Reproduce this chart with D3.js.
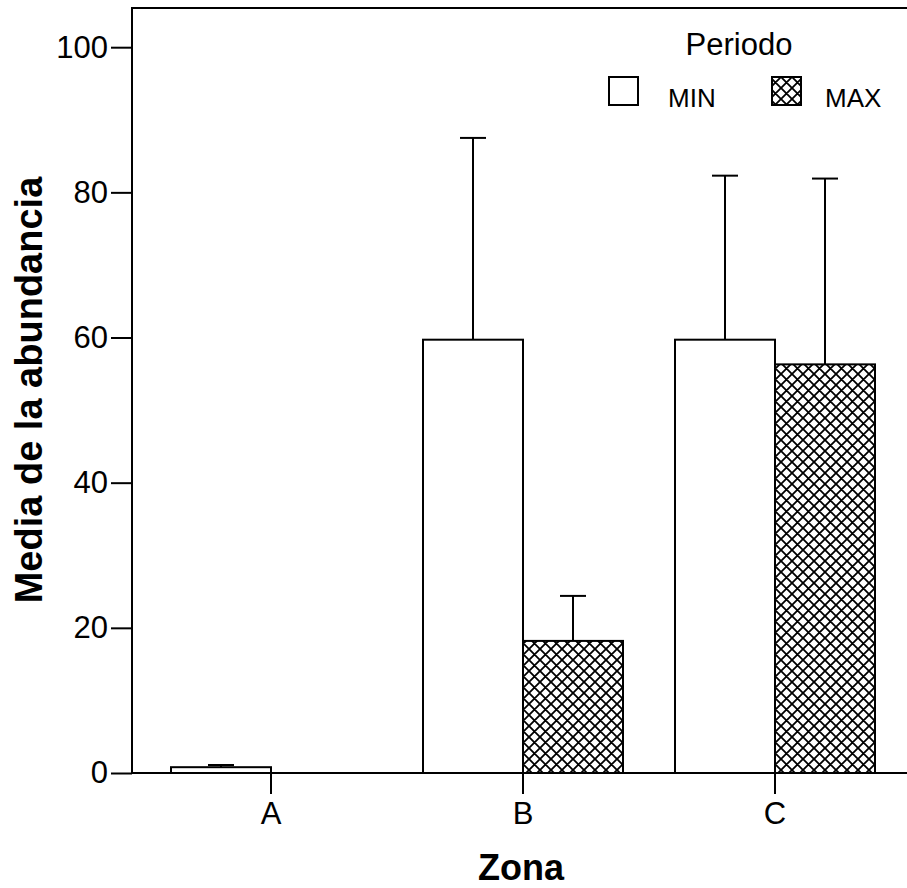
<!DOCTYPE html>
<html>
<head>
<meta charset="utf-8">
<script src="https://cdn.jsdelivr.net/npm/d3@7"></script>
<style>
  html, body { margin: 0; padding: 0; background: #fff; }
  svg { display: block; font-family: "Liberation Sans", Arial, sans-serif; }
</style>
</head>
<body>
<svg id="chart" width="907" height="888"></svg>
<script>
// Mean abundance per zone and period, with the upper error bar amount
const zones = ["A", "B", "C"];
const periods = ["MIN", "MAX"];
const meanMin = [0.8, 59.7, 59.7];
const meanMax = [0, 18.2, 56.3];
const errMin = [0.3, 27.8, 22.6];
const errMax = [0, 6.2, 25.6];
const yTicks = [0, 20, 40, 60, 80, 100];

(function () {
const svg = d3.select("#chart");
const W = 907;
const plotLeft = 132, plotTop = 8, plotBottom = 773;

const y = d3.scaleLinear().domain([0, 105.4]).range([plotBottom, plotTop]);
const x0 = d3.scaleBand().domain(zones).range([145, 901]);
const x1 = d3.scaleBand().domain(periods).range([26, 226]);

// crosshatch fill for the MAX period
const defs = svg.append("defs");
const pat = defs.append("pattern")
  .attr("id", "hatch")
  .attr("patternUnits", "userSpaceOnUse")
  .attr("width", 11).attr("height", 11);
pat.append("rect").attr("width", 11).attr("height", 11).attr("fill", "#fff");
pat.append("path")
  .attr("d", "M-1,-1 L12,12 M-1,12 L12,-1 M-6,5 L6,-6 M5,17 L17,5 M-6,6 L6,17 M5,-6 L17,6")
  .attr("stroke", "#000").attr("stroke-width", 1.8);

const rows = zones.map((z, i) => ({
  zone: z,
  values: [
    { period: "MIN", mean: meanMin[i], err: errMin[i] },
    { period: "MAX", mean: meanMax[i], err: errMax[i] }
  ]
}));

// frame
svg.append("line").attr("x1", plotLeft).attr("x2", W).attr("y1", plotTop).attr("y2", plotTop)
  .attr("stroke", "#000").attr("stroke-width", 2);

// y axis
const yAxis = d3.axisLeft(y).tickValues(yTicks).tickSize(21).tickPadding(3).tickFormat(d3.format("d"));
const gy = svg.append("g").attr("transform", `translate(${plotLeft},0)`).call(yAxis);
gy.select(".domain").remove();
gy.selectAll(".tick line").attr("stroke", "#000").attr("stroke-width", 2);
gy.selectAll(".tick text").attr("font-size", 31).attr("fill", "#000");
svg.append("line").attr("x1", plotLeft).attr("x2", plotLeft).attr("y1", plotTop - 1).attr("y2", plotBottom)
  .attr("stroke", "#000").attr("stroke-width", 2);

// groups of bars
const groups = svg.append("g").selectAll("g").data(rows).join("g")
  .attr("transform", d => `translate(${x0(d.zone)},0)`);

// error bars (drawn first, bars cover the lower part)
groups.selectAll("g.err").data(d => d.values).join("g").attr("class", "err")
  .each(function (d) {
    const g = d3.select(this);
    const cx = x1(d.period) + x1.bandwidth() / 2;
    g.append("line").attr("x1", cx).attr("x2", cx)
      .attr("y1", y(d.mean)).attr("y2", y(d.mean + d.err))
      .attr("stroke", "#000").attr("stroke-width", 2);
    g.append("line").attr("x1", cx - 13).attr("x2", cx + 13)
      .attr("y1", y(d.mean + d.err)).attr("y2", y(d.mean + d.err))
      .attr("stroke", d.err === 0 ? "#888" : "#000").attr("stroke-width", 2);
  });

groups.selectAll("rect").data(d => d.values).join("rect")
  .attr("x", d => x1(d.period))
  .attr("width", x1.bandwidth())
  .attr("y", d => y(d.mean))
  .attr("height", d => y(0) - y(d.mean))
  .attr("fill", d => d.period === "MAX" ? "url(#hatch)" : "#fff")
  .attr("stroke", "#000").attr("stroke-width", 2);

// x axis
svg.append("line").attr("x1", plotLeft).attr("x2", W).attr("y1", plotBottom).attr("y2", plotBottom)
  .attr("stroke", "#000").attr("stroke-width", 2);
const xAxis = d3.axisBottom(x0).tickSize(21).tickPadding(8);
const gx = svg.append("g").attr("transform", `translate(0,${plotBottom})`).call(xAxis);
gx.select(".domain").remove();
gx.selectAll(".tick line").attr("stroke", "#000").attr("stroke-width", 2);
gx.selectAll(".tick text").attr("font-size", 31).attr("fill", "#000");

// axis titles
svg.append("text").attr("x", 521).attr("y", 880).attr("text-anchor", "middle")
  .attr("font-size", 36).attr("font-weight", "bold").text("Zona");
svg.append("text").attr("transform", "translate(42,390) rotate(-90)")
  .attr("text-anchor", "middle").attr("font-size", 38).attr("font-weight", "bold")
  .text("Media de la abundancia");

// legend
const legend = svg.append("g");
legend.append("text").attr("x", 739).attr("y", 55).attr("text-anchor", "middle")
  .attr("font-size", 31).text("Periodo");
const legendX = [609, 772];
const labelX = [668, 825];
periods.forEach((p, i) => {
  legend.append("rect").attr("x", legendX[i]).attr("y", 77).attr("width", 29).attr("height", 28)
    .attr("fill", p === "MAX" ? "url(#hatch)" : "#fff")
    .attr("stroke", "#000").attr("stroke-width", 2);
  legend.append("text").attr("x", labelX[i]).attr("y", 107)
    .attr("font-size", 26).text(p);
});
})();
</script>
</body>
</html>
